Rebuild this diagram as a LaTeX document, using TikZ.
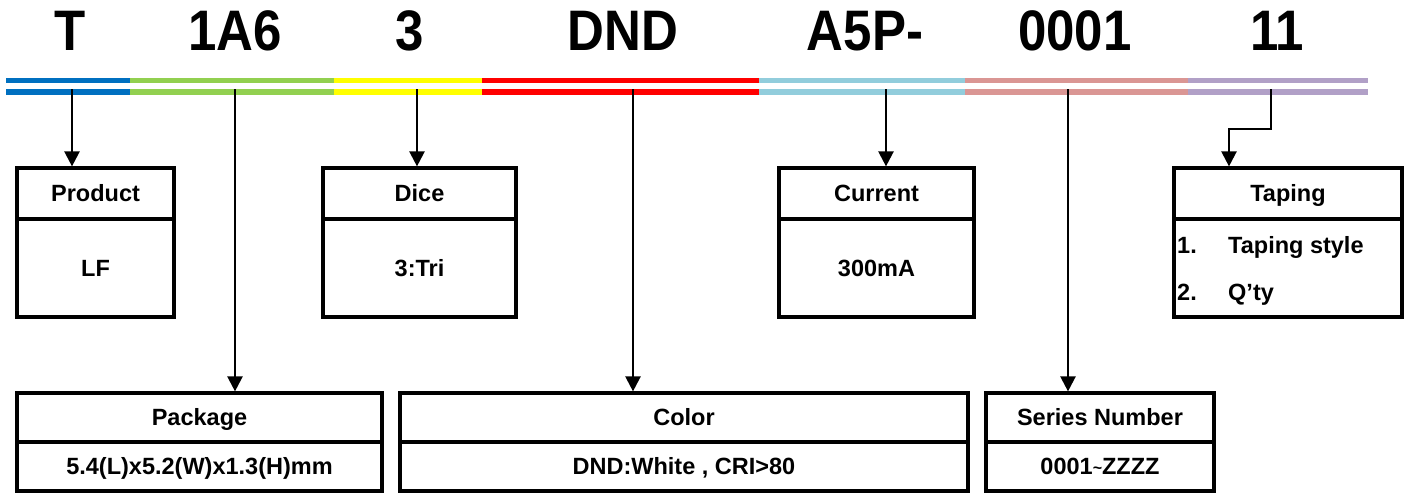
\documentclass[tikz,border=0pt]{standalone}
\usepackage{fontspec}
\setmainfont{Liberation Sans}
\usetikzlibrary{arrows.meta}
\definecolor{cBlue}{HTML}{0070C0}
\definecolor{cGreen}{HTML}{92D050}
\definecolor{cYellow}{HTML}{FFFF00}
\definecolor{cRed}{HTML}{FF0000}
\definecolor{cLBlue}{HTML}{92CDDC}
\definecolor{cPink}{HTML}{DA9694}
\definecolor{cPurple}{HTML}{B1A0C7}
\begin{document}
\begin{tikzpicture}[x=1pt,y=-1pt,
 bar/.style={line width=5.5pt,line cap=butt},
 arr/.style={line width=2.3pt,-{Triangle[width=15pt,length=15pt]}},
 boxpart/.style={draw,line width=3.2pt,outer sep=0pt,inner sep=0pt,text height=16.8pt,text depth=0pt,font=\fontsize{23.5}{28}\selectfont\bfseries},
 txt/.style={inner sep=0pt,font=\fontsize{23.5}{28}\selectfont\bfseries},
 title/.style={anchor=base,inner sep=0pt,font=\fontsize{51}{51}\selectfont\bfseries}]
\useasboundingbox (0,0) rectangle (1408,493);
% colour bars
\foreach \a/\b/\c in {6/130/cBlue,130/334/cGreen,334/482/cYellow,482/759/cRed,759/965/cLBlue,965/1188/cPink,1188/1368/cPurple}{
  \draw[bar,\c] (\a,80.7) -- (\b,80.7);
  \draw[bar,\c] (\a,91.8) -- (\b,91.8);
}
% titles
\node[title] (tT) at (70,50) {\scalebox{1}[1.12]{T}};
\node[title] (t1A6) at (235,50) {\scalebox{1}[1.12]{1A6}};
\node[title] (t3) at (410,50) {\scalebox{1}[1.12]{3}};
\node[title] (tDND) at (623,50) {\scalebox{1}[1.12]{DND}};
\node[title] (tA5P) at (865,50) {\scalebox{1}[1.12]{A5P-}};
\node[title] (t0001) at (1075,50) {\scalebox{1}[1.12]{0001}};
\node[title] (t11) at (1277,50) {\scalebox{1}[1.12]{11}};
% upper boxes
\node[boxpart,anchor=north west,minimum width=157pt,minimum height=51pt] (prodH) at (17,168) {Product};
\node[boxpart,anchor=north,minimum width=157pt,minimum height=98pt] (prodB) at (prodH.south) {LF};
\node[boxpart,anchor=north west,minimum width=193pt,minimum height=51pt] (diceH) at (323,168) {Dice};
\node[boxpart,anchor=north,minimum width=193pt,minimum height=98pt] (diceB) at (diceH.south) {3:Tri};
\node[boxpart,anchor=north west,minimum width=195pt,minimum height=51pt] (curH) at (779,168) {Current};
\node[boxpart,anchor=north,minimum width=195pt,minimum height=98pt] (curB) at (curH.south) {300mA};
\node[boxpart,anchor=north west,minimum width=228pt,minimum height=51pt] (tapH) at (1174,168) {Taping};
\node[boxpart,anchor=north,minimum width=228pt,minimum height=98pt] (tapB) at (tapH.south) {};
\node[txt,anchor=base west] (tp1n) at (1177,253) {1.};
\node[txt,anchor=base west] (tp1) at (1228,253) {Taping style};
\node[txt,anchor=base west] (tp2n) at (1177,300) {2.};
\node[txt,anchor=base west] (tp2) at (1228,300) {Q’ty};
% lower boxes
\node[boxpart,anchor=north west,minimum width=365pt,minimum height=49pt] (pkgH) at (17,393) {Package};
\node[boxpart,anchor=north,minimum width=365pt,minimum height=49pt] (pkgB) at (pkgH.south) {5.4(L)x5.2(W)x1.3(H)mm};
\node[boxpart,anchor=north west,minimum width=568pt,minimum height=49pt] (colH) at (400,393) {Color};
\node[boxpart,anchor=north,minimum width=568pt,minimum height=49pt] (colB) at (colH.south) {DND:White , CRI>80};
\node[boxpart,anchor=north west,minimum width=228pt,minimum height=49pt] (serH) at (986,393) {Series Number};
\node[boxpart,anchor=north,minimum width=228pt,minimum height=49pt] (serB) at (serH.south) {0001\raisebox{1pt}{\fontsize{16}{16}\selectfont\textasciitilde}ZZZZ};
% connectors
\coordinate (aT) at (72,89);
\coordinate (a1A6) at (235,89);
\coordinate (a3) at (417,89);
\coordinate (aDND) at (633,89);
\coordinate (aA5P) at (886,89);
\coordinate (a0001) at (1068,89);
\coordinate (a11) at (1271,89);
\coordinate (k11) at (1229,129);
\draw[arr] (aT) -- ([yshift=1.6pt]aT |- prodH.north);
\draw[arr] (a1A6) -- ([yshift=1.6pt]a1A6 |- pkgH.north);
\draw[arr] (a3) -- ([yshift=1.6pt]a3 |- diceH.north);
\draw[arr] (aDND) -- ([yshift=1.6pt]aDND |- colH.north);
\draw[arr] (aA5P) -- ([yshift=1.6pt]aA5P |- curH.north);
\draw[arr] (a0001) -- ([yshift=1.6pt]a0001 |- serH.north);
\draw[arr] (a11) |- (k11) -- ([yshift=1.6pt]k11 |- tapH.north);
\end{tikzpicture}
\end{document}
